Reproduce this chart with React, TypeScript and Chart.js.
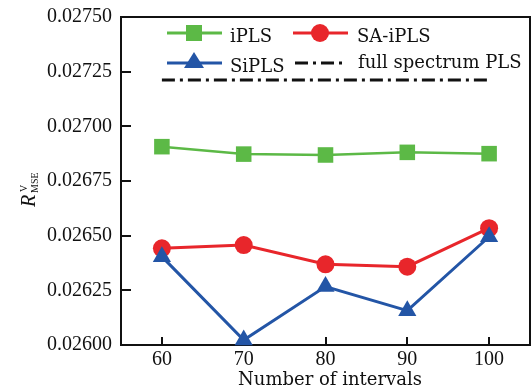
import { useEffect, useRef } from 'react';
import { Chart, registerables } from 'chart.js';

Chart.register(...registerables);

const FONT = '"Liberation Serif", "DejaVu Serif", serif';
const TFONT = '"DejaVu Serif", "Liberation Serif", serif';

const intervals = [60, 70, 80, 90, 100];
const iPLS = [0.026907, 0.026873, 0.026869, 0.026881, 0.026875];
const saIPLS = [0.026442, 0.026457, 0.026369, 0.026358, 0.026534];
const siPLS = [0.026404, 0.026023, 0.026267, 0.026157, 0.026495];
const fullSpectrumX = [60, 100];
const fullSpectrumPLS = [0.027212, 0.027212];
const yTicks = [0.026, 0.02625, 0.0265, 0.02675, 0.027, 0.02725, 0.0275];

const GREEN = '#5cb946';
const RED = '#e8262b';
const BLUE = '#2355a6';
const DASH = [13, 5, 3, 5];

const pts = (xs: number[], ys: number[]) => xs.map((x, i) => ({ x, y: ys[i] }));

function drawMarker(ctx: CanvasRenderingContext2D, kind: string, x: number, y: number, color: string) {
  ctx.fillStyle = color;
  ctx.beginPath();
  if (kind === 'rect') {
    ctx.rect(x - 8, y - 8, 16, 16);
  } else if (kind === 'circle') {
    ctx.arc(x, y, 9, 0, Math.PI * 2);
  } else {
    ctx.moveTo(x, y - 10);
    ctx.lineTo(x + 10, y + 6);
    ctx.lineTo(x - 10, y + 6);
    ctx.closePath();
  }
  ctx.fill();
}

const decorPlugin = {
  id: 'decor',
  beforeDatasetsDraw(chart: any) {
    const { ctx, chartArea: a, scales } = chart;
    ctx.save();
    ctx.strokeStyle = '#111';
    ctx.lineWidth = 2;
    ctx.strokeRect(a.left, a.top, a.right - a.left, a.bottom - a.top);
    ctx.beginPath();
    for (const v of intervals) {
      const px = Math.round(scales.x.getPixelForValue(v));
      ctx.moveTo(px, a.bottom);
      ctx.lineTo(px, a.bottom - 8);
    }
    for (const v of yTicks) {
      const py = Math.round(scales.y.getPixelForValue(v));
      ctx.moveTo(a.left, py);
      ctx.lineTo(a.left + 10, py);
    }
    ctx.stroke();
    ctx.restore();
  },
  afterDraw(chart: any) {
    const { ctx } = chart;
    ctx.save();
    const seg = (x1: number, x2: number, y: number, color: string, dash?: number[]) => {
      ctx.strokeStyle = color;
      ctx.lineWidth = 3;
      ctx.setLineDash(dash || []);
      ctx.beginPath();
      ctx.moveTo(x1, y);
      ctx.lineTo(x2, y);
      ctx.stroke();
      ctx.setLineDash([]);
    };
    seg(167, 222, 33, GREEN);
    drawMarker(ctx, 'rect', 194, 33, GREEN);
    seg(293, 348, 33, RED);
    drawMarker(ctx, 'circle', 320, 33, RED);
    seg(167, 222, 63, BLUE);
    drawMarker(ctx, 'tri', 194, 62, BLUE);
    seg(295, 343, 63, '#111', DASH);
    ctx.fillStyle = '#111';
    ctx.font = `18px ${TFONT}`;
    ctx.textBaseline = 'alphabetic';
    ctx.textAlign = 'left';
    ctx.fillText('iPLS', 230, 42);
    ctx.fillText('SA-iPLS', 357, 42);
    ctx.fillText('SiPLS', 230, 72);
    ctx.fillText('full spectrum PLS', 358, 68);
    ctx.textAlign = 'center';
    ctx.fillText('Number of intervals', 330, 385);
    ctx.translate(35, 207);
    ctx.rotate(-Math.PI / 2);
    ctx.textAlign = 'left';
    ctx.font = `italic 20px ${FONT}`;
    ctx.fillText('R', 0, 0);
    ctx.font = `10px ${FONT}`;
    ctx.fillText('V', 15, -8);
    ctx.fillText('MSE', 14, 3);
    ctx.restore();
  },
};

export default function App() {
  const ref = useRef<HTMLCanvasElement>(null);
  useEffect(() => {
    const chart = new Chart(ref.current!, {
      type: 'line',
      data: {
        datasets: [
          {
            label: 'full spectrum PLS',
            data: pts(fullSpectrumX, fullSpectrumPLS),
            borderColor: '#111',
            borderWidth: 3,
            borderDash: DASH,
            pointRadius: 0,
          },
          {
            label: 'iPLS',
            data: pts(intervals, iPLS),
            borderColor: GREEN,
            backgroundColor: GREEN,
            borderWidth: 2.5,
            pointStyle: 'rect',
            pointRadius: 11,
            pointBorderWidth: 0,
          },
          {
            label: 'SiPLS',
            data: pts(intervals, siPLS),
            borderColor: BLUE,
            backgroundColor: BLUE,
            borderWidth: 3,
            pointStyle: 'triangle',
            pointRadius: 10.5,
            pointBorderWidth: 0,
          },
          {
            label: 'SA-iPLS',
            data: pts(intervals, saIPLS),
            borderColor: RED,
            backgroundColor: RED,
            borderWidth: 3,
            pointStyle: 'circle',
            pointRadius: 9,
            pointBorderWidth: 0,
          },
        ] as any,
      },
      options: {
        animation: false,
        responsive: false,
        maintainAspectRatio: false,
        devicePixelRatio: 1,
        clip: false as any,
        layout: { autoPadding: false, padding: { top: 17, right: 2, left: 0, bottom: 0 } },
        plugins: { legend: { display: false }, tooltip: { enabled: false } },
        scales: {
          x: {
            type: 'linear',
            min: 55,
            max: 105,
            afterBuildTicks: (s: any) => {
              s.ticks = intervals.map((v) => ({ value: v }));
            },
            afterFit: (s: any) => {
              s.height = 47;
              s.paddingLeft = 0;
              s.paddingRight = 0;
            },
            grid: { display: false, drawTicks: false },
            border: { display: false },
            ticks: { font: { family: FONT, size: 20 }, color: '#111', padding: 3, maxRotation: 0 },
          },
          y: {
            type: 'linear',
            min: 0.026,
            max: 0.0275,
            afterBuildTicks: (s: any) => {
              s.ticks = yTicks.map((v) => ({ value: v }));
            },
            afterFit: (s: any) => {
              s.width = 121;
              s.paddingTop = 0;
              s.paddingBottom = 0;
            },
            grid: { display: false, drawTicks: false },
            border: { display: false },
            ticks: {
              font: { family: FONT, size: 20 },
              color: '#111',
              padding: 9,
              callback: (v: any) => Number(v).toFixed(5),
            },
          },
        },
      },
      plugins: [decorPlugin],
    });
    return () => chart.destroy();
  }, []);
  return (
    <div style={{ position: 'fixed', left: 0, top: 0, width: 532, height: 392 }}>
      <canvas ref={ref} width={532} height={392} style={{ display: 'block' }} />
    </div>
  );
}
